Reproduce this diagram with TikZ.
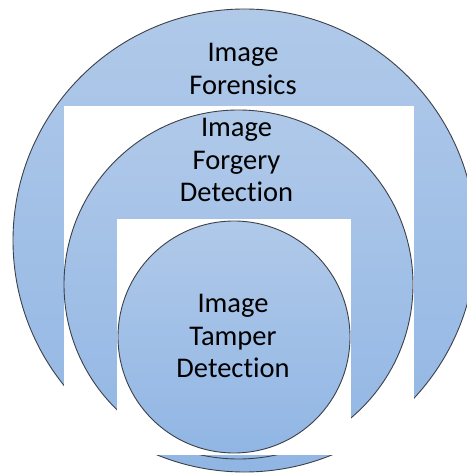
\documentclass[tikz,border=0pt]{standalone}
\usepackage{fontspec}
\setmainfont{Carlito}[Ligatures=CommonOff]
\definecolor{blueTop}{RGB}{176,201,233}
\definecolor{blueBot}{RGB}{145,182,228}
\definecolor{rimcol}{RGB}{60,64,72}
\begin{document}
\begin{tikzpicture}[x=1bp,y=-1bp,
  ring/.style={draw=rimcol,line width=0.9bp,top color=blueTop,bottom color=blueBot},
  blank/.style={fill=white,draw=none},
  label/.style={inner sep=0pt,align=center,font=\fontsize{28.5bp}{32.5bp}\selectfont}]
\useasboundingbox (0,0) rectangle (467,473);
\clip (0,0) rectangle (467,473);
\path[ring] (244.5,240.5) circle[radius=231.5];
\path[blank] (64,106) rectangle (414,455);
\path[ring] (238.5,284.5) circle[radius=174.5];
\path[blank] (117,219) rectangle (351,455);
\path[ring] (234,337) circle[radius=116];
\node[label] (forensics) at (243,69) {Image\\Forensics};
\node[label] (forgery) at (236.5,160.3) {Image\\Forgery\\Detection};
\node[label] (tamper) at (233,336.3) {Image\\Tamper\\Detection};
\end{tikzpicture}
\end{document}
